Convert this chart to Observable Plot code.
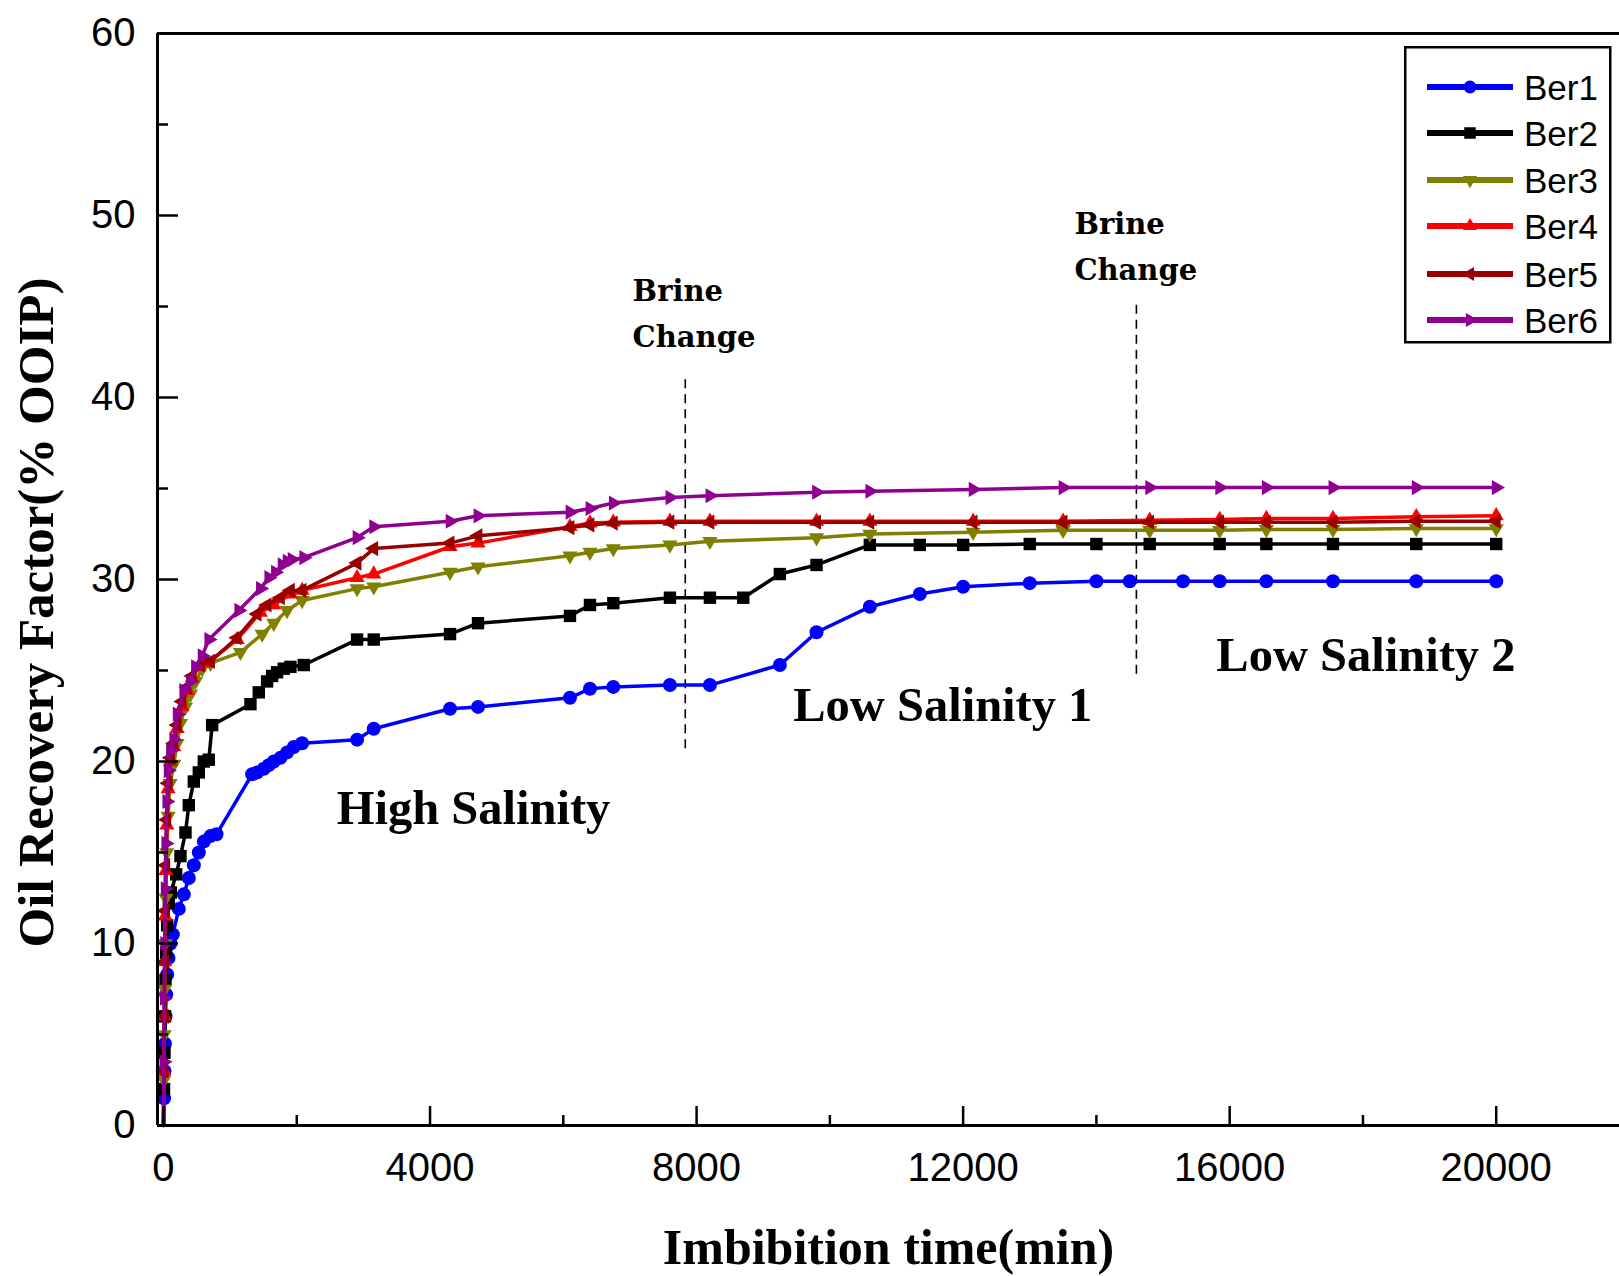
<!DOCTYPE html>
<html>
<head>
<meta charset="utf-8">
<script src="https://cdn.jsdelivr.net/npm/d3@7"></script>
<script src="https://cdn.jsdelivr.net/npm/@observablehq/plot@0.6"></script>
<style>
  body { margin: 0; background: #fff; }
  #wrap { position: relative; width: 1619px; height: 1276px; overflow: hidden; background: #fff; }
  #legend { position: absolute; left: 1404px; top: 46px; }
</style>
</head>
<body>
<div id="wrap"></div>
<script>
// ---------------- data ----------------
const seriesNames = ["Ber1", "Ber2", "Ber3", "Ber4", "Ber5", "Ber6"];
const seriesColors = ["#0000ff", "#000000", "#808000", "#ff0000", "#990000", "#900090"];
const seriesSymbols = ["circle", "square", "down", "up", "left", "right"];

// [time (min), oil recovery (% OOIP)]
const ber1 = [[0,0],[8,1.5],[15,3],[22,4.5],[30,6],[40,7.2],[55,8.3],[75,9.2],[105,10.0],[140,10.5],[230,11.9],[305,12.7],[380,13.6],[455,14.3],[530,15.0],[605,15.6],[705,15.9],[795,16.0],[1330,19.3],[1405,19.4],[1505,19.6],[1580,19.8],[1655,20.0],[1755,20.2],[1855,20.5],[1955,20.8],[2080,21.0],[2905,21.2],[3155,21.8],[4300,22.9],[4720,23.0],[6100,23.5],[6400,24.0],[6750,24.1],[7600,24.2],[8200,24.2],[9250,25.3],[9800,27.1],[10600,28.5],[11350,29.2],[12000,29.6],[13000,29.8],[14000,29.9],[14500,29.9],[15300,29.9],[15850,29.9],[16550,29.9],[17550,29.9],[18800,29.9],[20000,29.9]];
const ber2 = [[0,0],[8,2],[15,4],[22,6],[30,8],[40,9.5],[55,11],[80,12.2],[110,12.8],[190,13.8],[255,14.8],[330,16.1],[380,17.6],[455,18.9],[530,19.4],[605,20.0],[680,20.1],[730,22.0],[1305,23.15],[1430,23.8],[1555,24.4],[1630,24.7],[1705,24.9],[1805,25.1],[1905,25.2],[2105,25.3],[2905,26.7],[3155,26.7],[4300,27.0],[4720,27.6],[6100,28.0],[6400,28.6],[6750,28.7],[7600,29.0],[8200,29.0],[8700,29.0],[9250,30.3],[9800,30.8],[10600,31.9],[11350,31.9],[12000,31.9],[13000,31.95],[14000,31.95],[14800,31.95],[15850,31.95],[16550,31.95],[17550,31.95],[18800,31.95],[20000,31.95]];
const ber3 = [[0,0],[6,2.5],[12,5],[18,7.5],[25,10],[35,12.5],[50,15],[70,17],[100,18.8],[155,19.85],[205,21.0],[255,22.1],[330,23.0],[405,23.7],[480,24.4],[580,25.1],[705,25.4],[1155,26.0],[1480,27.0],[1655,27.6],[1855,28.3],[2080,28.85],[2905,29.5],[3155,29.6],[4300,30.4],[4720,30.7],[6100,31.3],[6400,31.5],[6750,31.7],[7600,31.9],[8200,32.1],[9800,32.3],[10600,32.5],[12150,32.6],[13500,32.7],[14800,32.7],[15850,32.7],[16550,32.75],[17550,32.75],[18800,32.8],[20000,32.8]];
const ber4 = [[0,0],[6,3],[12,6],[18,9],[25,11.5],[35,14],[50,16.5],[70,18.5],[105,20],[155,20.8],[205,21.8],[280,23.0],[355,23.9],[430,24.6],[530,25.2],[655,25.4],[1105,26.7],[1455,28.2],[1655,28.6],[1905,29.2],[2080,29.4],[2905,30.1],[3155,30.3],[4300,31.8],[4720,32.0],[6100,32.9],[6400,33.1],[6750,33.15],[7600,33.2],[8200,33.2],[9800,33.2],[10600,33.2],[12150,33.2],[13500,33.2],[14800,33.25],[15850,33.3],[16550,33.35],[17550,33.35],[18800,33.45],[20000,33.5]];
const ber5 = [[0,0],[6,3],[12,6],[18,9],[25,11.8],[35,14.3],[50,16.8],[70,18.8],[105,20.2],[155,21.0],[205,22.0],[280,23.3],[355,24.1],[430,24.7],[555,25.3],[705,25.5],[1105,26.8],[1405,28.1],[1555,28.6],[1755,29.0],[1905,29.4],[2080,29.4],[2905,30.9],[3155,31.7],[4300,32.0],[4720,32.4],[6100,32.85],[6400,33.0],[6750,33.1],[7600,33.15],[8200,33.15],[9800,33.15],[10600,33.15],[12150,33.15],[13500,33.15],[14800,33.15],[15850,33.15],[16550,33.15],[17550,33.15],[18800,33.2],[20000,33.2]];
const ber6 = [[0,0],[6,3.5],[12,7],[18,10],[25,13],[35,15.5],[50,17.8],[70,19.5],[105,20.6],[155,21.2],[205,22.6],[305,23.9],[405,24.4],[480,25.2],[580,25.8],[680,26.7],[1130,28.3],[1455,29.5],[1580,30.1],[1680,30.4],[1780,30.8],[1855,31.0],[1930,31.1],[2105,31.2],[2905,32.3],[3155,32.9],[4300,33.2],[4720,33.5],[6100,33.7],[6400,33.9],[6750,34.2],[7600,34.5],[8200,34.6],[9800,34.8],[10600,34.85],[12150,34.95],[13500,35.05],[14800,35.05],[15850,35.05],[16550,35.05],[17550,35.05],[18800,35.05],[20000,35.05]];
const seriesData = [ber1, ber2, ber3, ber4, ber5, ber6];

// axis ticks
const xMajorTicks = [0, 4000, 8000, 12000, 16000, 20000];
const xMinorTicks = [2000, 6000, 10000, 14000, 18000];
const yMajorTicks = [0, 10, 20, 30, 40, 50, 60];
const yMinorTicks = [5, 15, 25, 35, 45, 55];

// annotations
const regionLabels = [
  {t: 2600, v: 17.4, text: "High Salinity"},
  {t: 9450, v: 23.1, text: "Low Salinity 1"},
  {t: 15800, v: 25.8, text: "Low Salinity 2"}
];
const brineLabels = [
  {t: 7040, v: 44.85, text: "Brine\nChange"},
  {t: 13670, v: 48.55, text: "Brine\nChange"}
];
const brineLines = [
  {t: 7830, v1: 20.7, v2: 41.0},
  {t: 14600, v1: 24.8, v2: 45.2}
];

// ---------------- symbols ----------------
function triangle(dirDeg) {
  return {
    draw(ctx, size) {
      const R = Math.sqrt(size / Math.PI) * 1.25;
      for (let k = 0; k < 3; k++) {
        const a = (dirDeg + k * 120) * Math.PI / 180;
        const px = R * Math.cos(a), py = R * Math.sin(a);
        if (k === 0) ctx.moveTo(px, py); else ctx.lineTo(px, py);
      }
      ctx.closePath();
    }
  };
}
const symbolMap = {
  circle: "circle",
  square: "square",
  down: triangle(90),
  up: triangle(-90),
  left: triangle(180),
  right: triangle(0)
};

// ---------------- chart ----------------
const xMin = -90, xMax = 21850;
const W = 1619, H = 1276, mL = 157, mR = 0, mT = 33, mB = 151;
const pxPerX = (W - mL - mR) / (xMax - xMin);
const pxPerY = (H - mT - mB) / 60;

const tickFont = "'Liberation Sans', Arial, sans-serif";
const serif = "'Liberation Serif', 'Times New Roman', serif";

const seriesMarks = seriesNames.flatMap((name, i) => {
  const rows = seriesData[i].map(([t, v]) => ({t, v}));
  return [
    Plot.line(rows, {x: "t", y: "v", stroke: seriesColors[i], strokeWidth: 3.5}),
    Plot.dot(rows.slice(1), {x: "t", y: "v", fill: seriesColors[i], stroke: "none", r: 7, symbol: symbolMap[seriesSymbols[i]]})
  ];
});

const chart = Plot.plot({
  width: W,
  height: H,
  marginLeft: mL,
  marginRight: mR,
  marginTop: mT,
  marginBottom: mB,
  style: {background: "#fff", fontFamily: tickFont, overflow: "visible"},
  x: {domain: [xMin, xMax], label: null},
  y: {domain: [0, 60], label: null},
  marks: [
    // dashed brine change lines
    Plot.ruleX(brineLines, {x: "t", y1: "v1", y2: "v2", stroke: "#000", strokeWidth: 1.6, strokeDasharray: "9,6"}),
    ...seriesMarks,
    // frame lines
    Plot.ruleY([0, 60], {stroke: "#000", strokeWidth: 3}),
    Plot.ruleX([xMin], {stroke: "#000", strokeWidth: 3}),
    // inward ticks
    Plot.ruleY(yMajorTicks, {y: d => d, x1: xMin, x2: xMin + 21 / pxPerX, stroke: "#000", strokeWidth: 2.5}),
    Plot.ruleY(yMinorTicks, {y: d => d, x1: xMin, x2: xMin + 11 / pxPerX, stroke: "#000", strokeWidth: 2.5}),
    Plot.ruleX(xMajorTicks, {x: d => d, y1: 0, y2: 19 / pxPerY, stroke: "#000", strokeWidth: 2.5}),
    Plot.ruleX(xMinorTicks, {x: d => d, y1: 0, y2: 10 / pxPerY, stroke: "#000", strokeWidth: 2.5}),
    // tick labels
    Plot.axisY({ticks: yMajorTicks, tickSize: 0, tickPadding: 22, tickFormat: d => String(d), fontSize: 40, fontFamily: tickFont, label: null}),
    Plot.axisX({ticks: xMajorTicks, tickSize: 0, tickPadding: 27, tickFormat: d => String(d), fontSize: 40, fontFamily: tickFont, label: null}),
    // axis titles
    Plot.text(["Imbibition time(min)"], {frameAnchor: "bottom", textAnchor: "middle", dy: 138, lineAnchor: "bottom", fontSize: 50, fontWeight: "bold", fontFamily: serif, fill: "#000"}),
    Plot.text(["Oil Recovery Factor(% OOIP)"], {frameAnchor: "left", textAnchor: "middle", lineAnchor: "middle", dx: -121, dy: 33, rotate: -90, fontSize: 51, fontWeight: "bold", fontFamily: serif, fill: "#000"}),
    // annotations
    Plot.text(regionLabels, {x: "t", y: "v", text: "text", textAnchor: "start", fontSize: 48.5, fontWeight: "bold", fontFamily: serif, fill: "#000"}),
    Plot.text(brineLabels, {x: "t", y: "v", text: "text", textAnchor: "start", lineHeight: 1.6, fontSize: 29, fontWeight: "bold", fontFamily: "'DejaVu Serif', serif", fill: "#000"})
  ]
});
document.getElementById("wrap").appendChild(chart);

// ---------------- legend ----------------
const legend = d3.select("#wrap").append("svg")
  .attr("id", "legend").attr("width", 212).attr("height", 302);
legend.append("rect").attr("x", 1.25).attr("y", 1.25).attr("width", 205).attr("height", 295)
  .attr("fill", "#fff").attr("stroke", "#000").attr("stroke-width", 2.5);
const rowY = [41, 87, 134, 180, 228, 274];
seriesNames.forEach((name, i) => {
  const g = legend.append("g").attr("transform", `translate(0,${rowY[i]})`);
  g.append("line").attr("x1", 23).attr("x2", 109).attr("y1", 0).attr("y2", 0)
    .attr("stroke", seriesColors[i]).attr("stroke-width", 6);
  const sym = symbolMap[seriesSymbols[i]];
  const type = sym === "circle" ? d3.symbolCircle : sym === "square" ? d3.symbolSquare : sym;
  g.append("path").attr("transform", "translate(66,0)")
    .attr("d", d3.symbol(type, Math.PI * 6.5 * 6.5)())
    .attr("fill", seriesColors[i]);
  g.append("text").attr("x", 120).attr("y", 0).attr("dy", "0.36em")
    .attr("font-family", tickFont).attr("font-size", 35).attr("fill", "#000").text(name);
});
</script>
</body>
</html>
